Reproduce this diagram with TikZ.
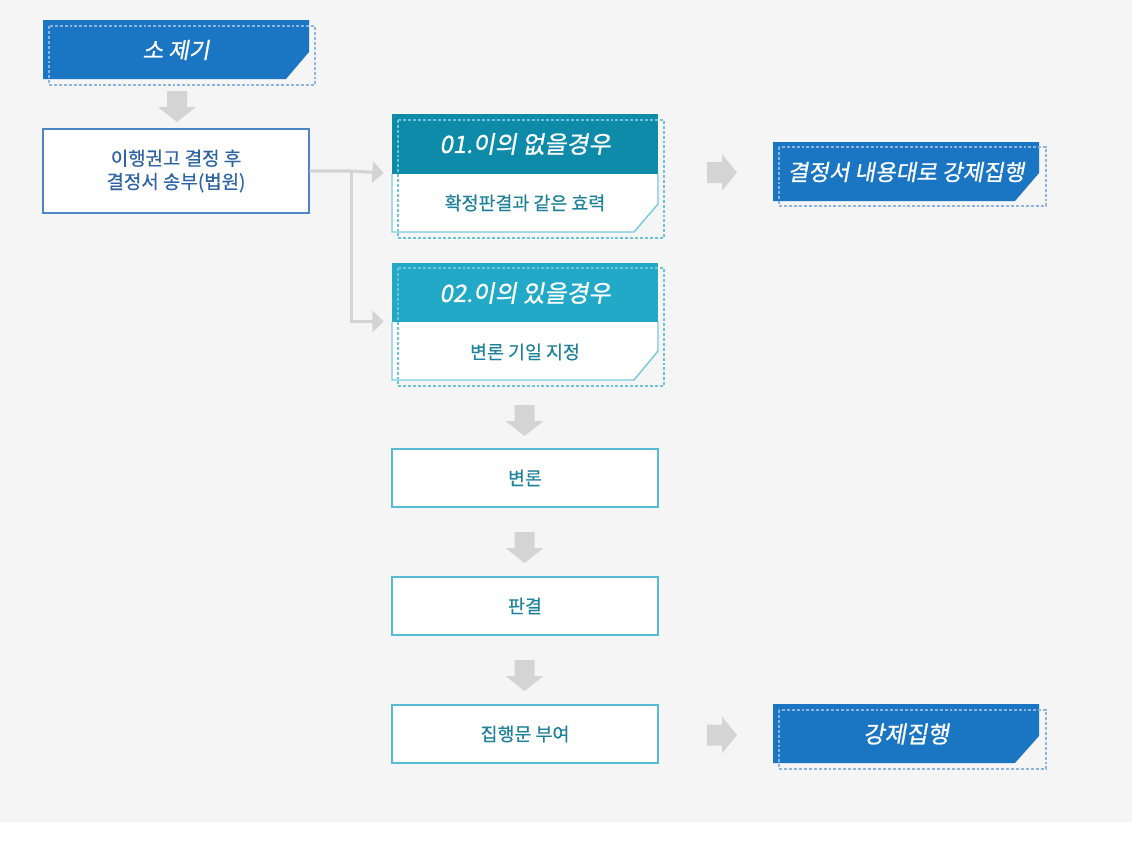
\documentclass[tikz,border=0pt]{standalone}
\usepackage{fontspec}
\setmainfont{Noto Sans CJK KR}
\newfontfamily\hd{Noto Sans CJK KR}[FakeSlant=0.18, FakeBold=0.9]
\newfontfamily\bd{Noto Sans CJK KR}[FakeBold=0.35]
\usetikzlibrary{arrows.meta,calc}
\definecolor{bg}{HTML}{F5F5F5}
\definecolor{blueA}{HTML}{1A75C3}
\definecolor{blueDash}{HTML}{8DB5DF}
\definecolor{boxBlue}{HTML}{4F84C4}
\definecolor{txtBlue}{HTML}{2D62A3}
\definecolor{tealA}{HTML}{0E8BA8}
\definecolor{tealB}{HTML}{22A9C7}
\definecolor{tealLine}{HTML}{78C9DC}
\definecolor{tealDash}{HTML}{6CC4D9}
\definecolor{tealBox}{HTML}{55BAD2}
\definecolor{txtTeal}{HTML}{1C8199}
\definecolor{arrGray}{HTML}{D4D4D4}
\begin{document}
\begin{tikzpicture}[x=0.75pt,y=-0.75pt,
  dashbox/.style={line width=0.9pt, dash pattern=on 2.2pt off 1.5pt},
  conn/.style={draw=arrGray, line width=2.4pt, -{Triangle[length=8.5pt,width=16pt]}},
  bodytxt/.style={font=\bd\fontsize{13.8pt}{17pt}\selectfont, text=txtTeal},
  headtxt/.style={font=\hd\fontsize{16.8pt}{19pt}\selectfont, text=white},
  plainbox/.style={draw=tealBox, line width=0.9pt, fill=white, minimum width=199.5pt, minimum height=43.5pt, inner sep=0pt},
  area/.style={minimum width=199.5pt, minimum height=88.5pt, inner sep=0pt},
  dnarr/.pic={\fill[arrGray] (-10,0) -- (10,0) -- (10,16) -- (19,16) -- (0,31) -- (-19,16) -- (-10,16) -- cycle;},
  rtarr/.pic={\fill[arrGray] (0,-10.5) -- (15,-10.5) -- (15,-18.5) -- (30,0) -- (15,18.5) -- (15,10.5) -- (0,10.5) -- cycle;}
]
\useasboundingbox (0,0) rectangle (1132,850);
\fill[white] (0,0) rectangle (1132,850);
\fill[bg] (0,0) rectangle (1132,822);

% 소 제기
\fill[blueA] (43,20) -- (309,20) -- (309,52) -- (286,79) -- (43,79) -- cycle;
\draw[dashbox, draw=blueDash] (49,26) rectangle (315,85);
\node[headtxt] (s1) at (176,50) {소 제기};

\pic at (177,91) {dnarr};

% 이행권고
\node[draw=boxBlue, line width=0.9pt, fill=white, minimum width=199.5pt, minimum height=63pt, inner sep=0pt,
  align=center, font=\bd\fontsize{14.2pt}{17.5pt}\selectfont, text=txtBlue] (b2) at (176,171)
  {이행권고 결정 후\\결정서 송부(법원)};

% 01 box
\fill[tealA] (392,114) rectangle (658,174);
\filldraw[fill=white, draw=tealLine, line width=1.1pt] (392,174) -- (392,232) -- (634,232) -- (658,204) -- (658,174);
\draw[dashbox, draw=tealDash] (398,120) rectangle (664,238);
\node[area] (c1) at (525,173) {};
\node[headtxt, font=\hd\fontsize{18pt}{20pt}\selectfont] (c1h) at (525,144) {01.이의 없을경우};
\node[bodytxt] (c1b) at (525,203) {확정판결과 같은 효력};

% 02 box
\fill[tealB] (392,263) rectangle (658,322);
\filldraw[fill=white, draw=tealLine, line width=1.1pt] (392,322) -- (392,380) -- (634,380) -- (658,351) -- (658,322);
\draw[dashbox, draw=tealDash] (398,268) rectangle (664,386);
\node[area] (c2) at (525,321.5) {};
\node[headtxt, font=\hd\fontsize{18pt}{20pt}\selectfont] (c2h) at (525,293) {02.이의 있을경우};
\node[bodytxt] (c2b) at (525,352) {변론 기일 지정};

% connectors
\draw[conn] (b2.east) -- ++(42,0) coordinate (j) -- ($(c1.west)+(-8,0)$ |- b2.east);
\draw[conn] (j) |- ($(c2.west)+(-8,0)$);

% result 1
\pic at (707,172.5) {rtarr};
\fill[blueA] (773,142) -- (1039,142) -- (1039,173) -- (1015,201) -- (773,201) -- cycle;
\draw[dashbox, draw=blueDash] (779,147) rectangle (1046,206);
\node[headtxt] (r1) at (906,172) {결정서 내용대로 강제집행};

% steps
\pic at (524.5,405) {dnarr};
\node[plainbox, bodytxt] (d1) at (525,478) {변론};
\pic at (524.5,532) {dnarr};
\node[plainbox, bodytxt] (d2) at (525,606) {판결};
\pic at (524.5,660) {dnarr};
\node[plainbox, bodytxt] (d3) at (525,734) {집행문 부여};

% result 2
\pic at (707,735) {rtarr};
\fill[blueA] (773,704) -- (1039,704) -- (1039,736) -- (1015,763) -- (773,763) -- cycle;
\draw[dashbox, draw=blueDash] (779,710) rectangle (1046,769);
\node[headtxt, font=\hd\fontsize{17.5pt}{19pt}\selectfont] (r2) at (906,734) {강제집행};
\end{tikzpicture}
\end{document}
